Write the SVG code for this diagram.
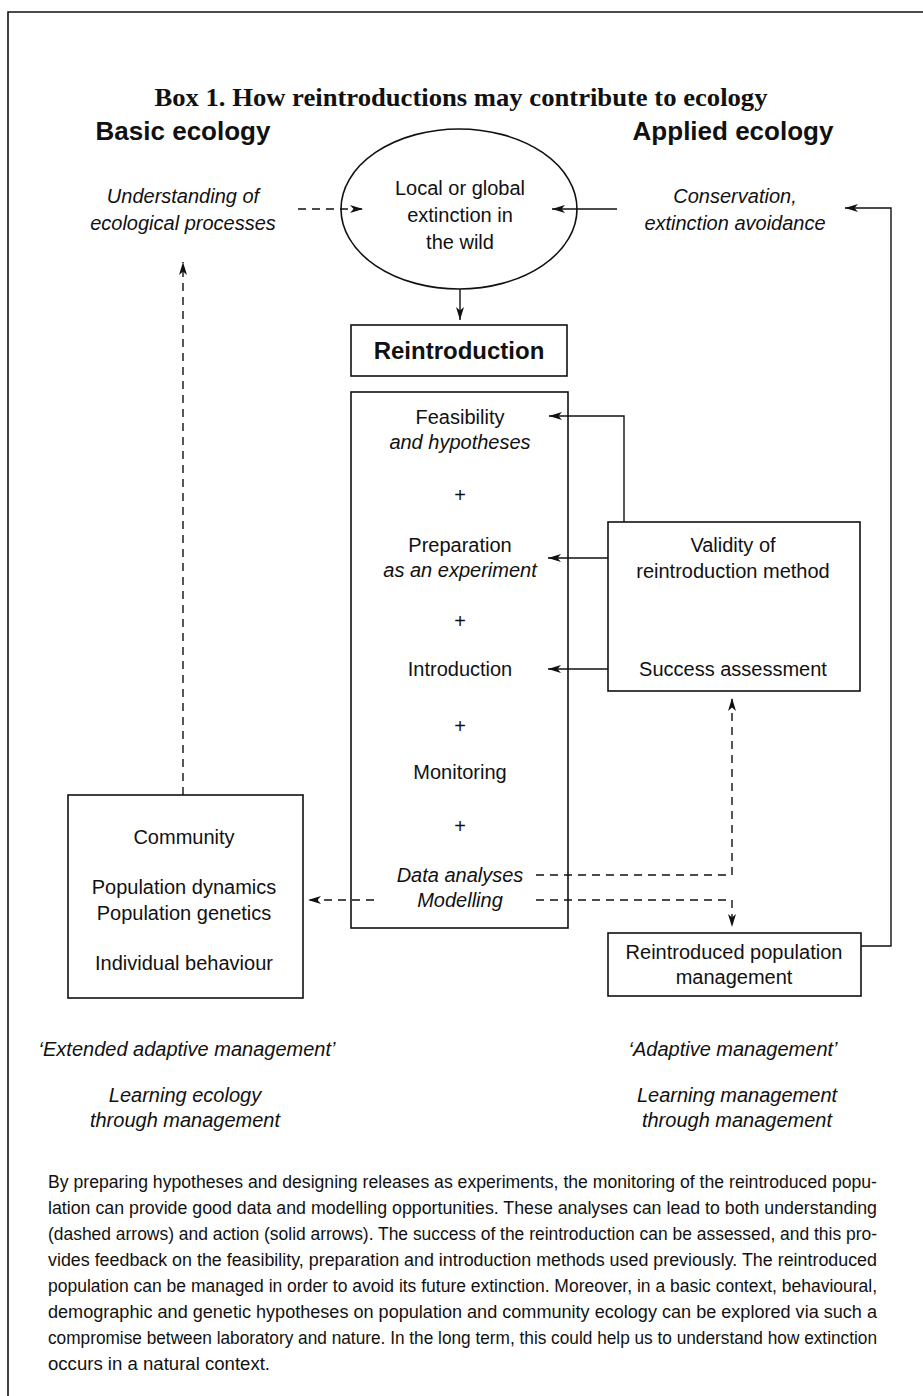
<svg xmlns="http://www.w3.org/2000/svg" width="923" height="1396" viewBox="0 0 923 1396">
<style>
.t{font-family:"Liberation Sans",Arial,sans-serif;font-size:20px;fill:#111;text-anchor:middle}
.i{font-style:italic}
.h{font-weight:bold;font-size:26px}
.title{font-family:"Liberation Serif","Times New Roman",serif;font-weight:bold;font-size:26px;fill:#111;text-anchor:middle}
.p{font-family:"Liberation Sans",Arial,sans-serif;font-size:17.5px;fill:#111}
.box{fill:none;stroke:#111;stroke-width:1.6}
.c{fill:none;stroke:#111;stroke-width:1.4}
.d{fill:none;stroke:#111;stroke-width:1.4;stroke-dasharray:8,6}
</style>
<defs>
<marker id="ah" viewBox="0 0 13 8" refX="13" refY="4" markerWidth="13" markerHeight="8" markerUnits="userSpaceOnUse" orient="auto">
<path d="M0,0 L13,4 L0,8 L3.5,4 z" fill="#111"/>
</marker>
</defs>
<rect width="923" height="1396" fill="#fff"/>
<g id="frame">
<path class="box" d="M8,1396 V12 H923"/>
</g>
<g id="title">
<text class="title" x="461" y="106" textLength="613" lengthAdjust="spacingAndGlyphs">Box 1. How reintroductions may contribute to ecology</text>
</g>
<g id="basic-heading"><text class="t h" x="183" y="140">Basic ecology</text></g>
<g id="applied-heading"><text class="t h" x="733" y="140">Applied ecology</text></g>
<g id="understanding">
<text class="t i" x="183" y="203">Understanding of</text>
<text class="t i" x="183" y="230">ecological processes</text>
</g>
<g id="conservation">
<text class="t i" x="735" y="203">Conservation,</text>
<text class="t i" x="735" y="230">extinction avoidance</text>
</g>
<g id="extinction">
<ellipse class="box" cx="459" cy="209" rx="118" ry="80"/>
<text class="t" x="460" y="195">Local or global</text>
<text class="t" x="460" y="222">extinction in</text>
<text class="t" x="460" y="249">the wild</text>
</g>
<g id="reintroduction">
<rect class="box" x="351" y="325" width="216" height="51"/>
<text class="t" style="font-weight:bold;font-size:24px" x="459" y="359">Reintroduction</text>
</g>
<g id="steps">
<rect class="box" x="351" y="392" width="217" height="536"/>
<text class="t" x="460" y="424">Feasibility</text>
<text class="t i" x="460" y="449">and hypotheses</text>
<text class="t" x="460" y="502">+</text>
<text class="t" x="460" y="552">Preparation</text>
<text class="t i" x="460" y="577">as an experiment</text>
<text class="t" x="460" y="628">+</text>
<text class="t" x="460" y="676">Introduction</text>
<text class="t" x="460" y="733">+</text>
<text class="t" x="460" y="779">Monitoring</text>
<text class="t" x="460" y="833">+</text>
<text class="t i" x="460" y="882">Data analyses</text>
<text class="t i" x="460" y="907">Modelling</text>
</g>
<g id="validity">
<rect class="box" x="608" y="522" width="252" height="169"/>
<text class="t" x="733" y="552">Validity of</text>
<text class="t" x="733" y="578">reintroduction method</text>
<text class="t" x="733" y="676">Success assessment</text>
</g>
<g id="ecology-levels">
<rect class="box" x="68" y="795" width="235" height="203"/>
<text class="t" x="184" y="844">Community</text>
<text class="t" x="184" y="894">Population dynamics</text>
<text class="t" x="184" y="920">Population genetics</text>
<text class="t" x="184" y="970">Individual behaviour</text>
</g>
<g id="management">
<rect class="box" x="608" y="933" width="253" height="63"/>
<text class="t" x="734" y="959">Reintroduced population</text>
<text class="t" x="734" y="984">management</text>
</g>
<g id="bottom-labels">
<text class="t i" x="187" y="1056">‘Extended adaptive management’</text>
<text class="t i" x="185" y="1102">Learning ecology</text>
<text class="t i" x="185" y="1127">through management</text>
<text class="t i" x="733" y="1056">‘Adaptive management’</text>
<text class="t i" x="737" y="1102">Learning management</text>
<text class="t i" x="737" y="1127">through management</text>
</g>
<g id="connectors">
<path class="d" d="M298,209 H363" marker-end="url(#ah)"/>
<path class="c" d="M617,209 H552" marker-end="url(#ah)"/>
<path class="c" d="M460,289 V320" marker-end="url(#ah)"/>
<path class="c" d="M624,522 V416 H549" marker-end="url(#ah)"/>
<path class="c" d="M608,558 H548" marker-end="url(#ah)"/>
<path class="c" d="M608,669 H548" marker-end="url(#ah)"/>
<path class="d" d="M536,875 H732 V698" marker-end="url(#ah)"/>
<path class="d" d="M536,900 H732 V927" marker-end="url(#ah)"/>
<path class="d" d="M374,900 H308" marker-end="url(#ah)"/>
<path class="d" d="M183,795 V262" marker-end="url(#ah)"/>
<path class="c" d="M861,946 H891 V208 H845" marker-end="url(#ah)"/>
</g>
<g id="caption">
<text class="p" x="48" y="1188" textLength="829" lengthAdjust="spacingAndGlyphs">By preparing hypotheses and designing releases as experiments, the monitoring of the reintroduced popu-</text>
<text class="p" x="48" y="1214" textLength="829" lengthAdjust="spacingAndGlyphs">lation can provide good data and modelling opportunities. These analyses can lead to both understanding</text>
<text class="p" x="48" y="1240" textLength="829" lengthAdjust="spacingAndGlyphs">(dashed arrows) and action (solid arrows). The success of the reintroduction can be assessed, and this pro-</text>
<text class="p" x="48" y="1266" textLength="829" lengthAdjust="spacingAndGlyphs">vides feedback on the feasibility, preparation and introduction methods used previously. The reintroduced</text>
<text class="p" x="48" y="1292" textLength="829" lengthAdjust="spacingAndGlyphs">population can be managed in order to avoid its future extinction. Moreover, in a basic context, behavioural,</text>
<text class="p" x="48" y="1318" textLength="829" lengthAdjust="spacingAndGlyphs">demographic and genetic hypotheses on population and community ecology can be explored via such a</text>
<text class="p" x="48" y="1344" textLength="829" lengthAdjust="spacingAndGlyphs">compromise between laboratory and nature. In the long term, this could help us to understand how extinction</text>
<text class="p" x="48" y="1370" textLength="222" lengthAdjust="spacingAndGlyphs">occurs in a natural context.</text>
</g>
</svg>
